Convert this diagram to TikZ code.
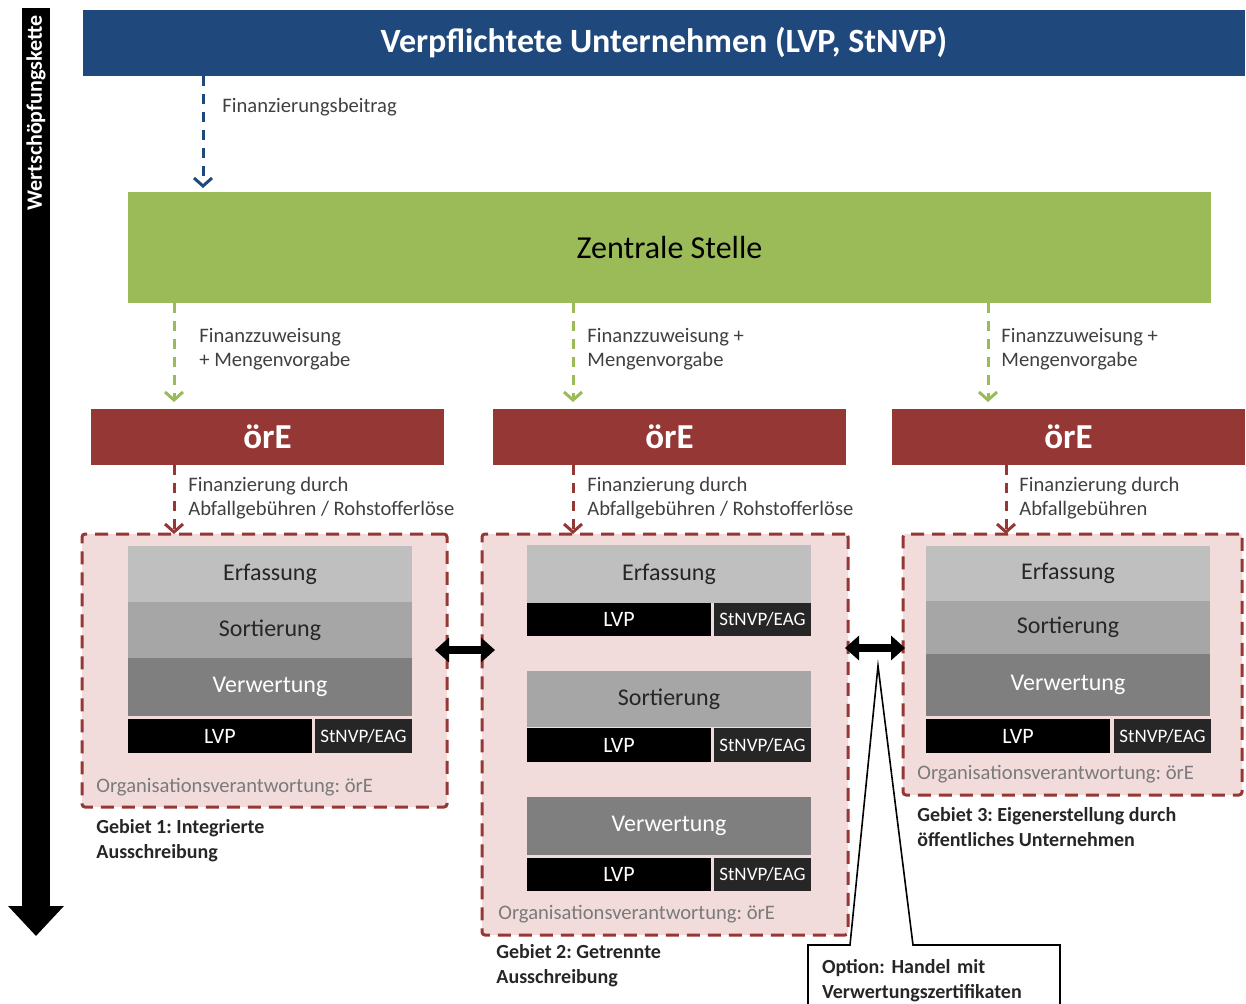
\documentclass[tikz,border=0pt]{standalone}
\usepackage{fontspec}
\setmainfont{Carlito}
\usetikzlibrary{arrows.meta}

\definecolor{vublue}{HTML}{1F497D}
\definecolor{zsgreen}{HTML}{9BBB59}
\definecolor{orered}{HTML}{953735}
\definecolor{gebpink}{HTML}{F2DCDB}
\definecolor{erfgray}{HTML}{BFBFBF}
\definecolor{sortgray}{HTML}{A6A6A6}
\definecolor{verwgray}{HTML}{7F7F7F}
\definecolor{stngray}{HTML}{262626}
\definecolor{labgray}{HTML}{404040}
\definecolor{orggray}{HTML}{7A7A7A}

\begin{document}
\frenchspacing
\begin{tikzpicture}[x=0.5pt,y=-0.5pt,
        box/.style={anchor=north west,inner sep=0pt,outer sep=0pt},
        ore/.style={box,fill=orered,text=white,minimum width=176.5pt,minimum height=28pt,font=\fontsize{17.5}{20}\selectfont\bfseries},
        gebiet/.style={box,fill=gebpink,draw=orered,line width=1.5pt,dash pattern=on 6.5pt off 4pt,rounded corners=1.5pt},
        stage/.style={box,minimum width=142pt,minimum height=28pt,text=stngray,font=\fontsize{12}{14}\selectfont},
        lvp/.style={box,fill=black,text=white,minimum width=92pt,minimum height=17pt,font=\fontsize{11}{13}\selectfont},
        stn/.style={box,fill=stngray,text=white,minimum width=48.5pt,minimum height=17pt,font=\fontsize{9.5}{11}\selectfont},
        fin/.style={line width=1.5pt,dash pattern=on 5pt off 4pt,-{Straight Barb[length=4pt,width=9pt]}},
        lab/.style={anchor=west,inner sep=0pt,align=left,text=labgray,font=\fontsize{10.3}{12}\selectfont},
        org/.style={anchor=west,inner sep=0pt,text=orggray,font=\fontsize{10.3}{12}\selectfont},
        geb/.style={anchor=west,inner sep=0pt,align=left,text=stngray,font=\fontsize{10}{12.5}\selectfont\bfseries},
        tausch/.style={line width=4pt,{Triangle[length=7pt,width=12pt]}-{Triangle[length=7pt,width=12pt]}}]
    \useasboundingbox (0,0) rectangle (1246,1003);

    \coordinate (wtop) at (36,8);
    \coordinate (wbot) at (36,936);
    \draw[line width=14pt,-{Triangle[length=15pt,width=27pt]}] (wtop) -- (wbot);
    \node[rotate=90,anchor=east,inner sep=0pt,text=white,font=\fontsize{11}{12}\selectfont\bfseries] (wsk) at (36,15) {Wertschöpfungskette};

    \node[box,fill=vublue,text=white,minimum width=581pt,minimum height=33pt,font=\fontsize{17}{20}\selectfont\bfseries] (top) at (83,10) {Verpflichtete Unternehmen (LVP, StNVP)};
    \node[box,fill=zsgreen,text=black,minimum width=541.5pt,minimum height=55.5pt,font=\fontsize{16}{19}\selectfont] (zs) at (128,192) {Zentrale Stelle};

    \coordinate (b1) at (203,0);
    \draw[fin,vublue,shorten >=2pt] (top.south -| b1) -- (zs.north -| b1);
    \node[lab] (fb) at (222,107) {Finanzierungsbeitrag};

    \node[ore] (ore1) at (91,409) {örE};
    \node[ore] (ore2) at (493,409) {örE};
    \node[ore] (ore3) at (892,409) {örE};

    \coordinate (g1) at (174,0);
    \coordinate (g2) at (573,0);
    \coordinate (g3) at (988,0);
    \draw[fin,zsgreen,shorten >=3.5pt] (zs.south -| g1) -- (ore1.north -| g1);
    \draw[fin,zsgreen,shorten >=3.5pt] (zs.south -| g2) -- (ore2.north -| g2);
    \draw[fin,zsgreen,shorten >=3.5pt] (zs.south -| g3) -- (ore3.north -| g3);
    \node[lab] (fz1) at (199,349) {Finanzzuweisung\\+ Mengenvorgabe};
    \node[lab] (fz2) at (587,349) {Finanzzuweisung +\\Mengenvorgabe};
    \node[lab] (fz3) at (1001,349) {Finanzzuweisung +\\Mengenvorgabe};

    \node[gebiet,minimum width=182.5pt,minimum height=136.5pt] (r1) at (82,534) {};
    \node[gebiet,minimum width=183pt,minimum height=200.5pt] (r2) at (482,534) {};
    \node[gebiet,minimum width=169.5pt,minimum height=130.5pt] (r3) at (903,534) {};

    \coordinate (f1) at (174,0);
    \coordinate (f2) at (573,0);
    \coordinate (f3) at (1006,0);
    \draw[fin,orered] (ore1.south -| f1) -- (r1.north -| f1);
    \draw[fin,orered] (ore2.south -| f2) -- (r2.north -| f2);
    \draw[fin,orered] (ore3.south -| f3) -- (r3.north -| f3);
    \node[lab] (fa1) at (188,498) {Finanzierung durch\\Abfallgebühren / Rohstofferlöse};
    \node[lab] (fa2) at (587,498) {Finanzierung durch\\Abfallgebühren / Rohstofferlöse};
    \node[lab] (fa3) at (1019,498) {Finanzierung durch\\Abfallgebühren};

    \node[stage,fill=erfgray] (erf1) at (128,546) {Erfassung};
    \node[stage,fill=sortgray] (sort1) at (128,602) {Sortierung};
    \node[stage,fill=verwgray,text=white,minimum height=29pt] (verw1) at (128,658) {Verwertung};
    \node[lvp] (lvp1) at (128,719) {LVP};
    \node[stn] (stn1) at (315,719) {StNVP/EAG};
    \node[org] (org1) at (96,787) {Organisationsverantwortung: örE};
    \node[geb] (geb1) at (96,841) {Gebiet 1: Integrierte\\Ausschreibung};

    \node[stage,fill=erfgray,minimum height=29pt] (erf2) at (527,545) {Erfassung};
    \node[lvp,minimum height=16.5pt] (lvp2a) at (527,603) {LVP};
    \node[stn,minimum height=16.5pt] (stn2a) at (714,603) {StNVP/EAG};
    \node[stage,fill=sortgray] (sort2) at (527,671) {Sortierung};
    \node[lvp] (lvp2b) at (527,728) {LVP};
    \node[stn] (stn2b) at (714,728) {StNVP/EAG};
    \node[stage,fill=verwgray,text=white,minimum height=29pt] (verw2) at (527,797) {Verwertung};
    \node[lvp,minimum height=16.5pt] (lvp2c) at (527,858) {LVP};
    \node[stn,minimum height=16.5pt] (stn2c) at (714,858) {StNVP/EAG};
    \node[org] (org2) at (498,914) {Organisationsverantwortung: örE};
    \node[geb] (geb2) at (496,966) {Gebiet 2: Getrennte\\Ausschreibung};

    \node[stage,fill=erfgray,minimum height=27.5pt] (erf3) at (926,546) {Erfassung};
    \node[stage,fill=sortgray,minimum height=26.5pt] (sort3) at (926,601) {Sortierung};
    \node[stage,fill=verwgray,text=white,minimum height=31pt] (verw3) at (926,654) {Verwertung};
    \node[lvp] (lvp3) at (926,719) {LVP};
    \node[stn] (stn3) at (1114,719) {StNVP/EAG};
    \node[org] (org3) at (917,774) {Organisationsverantwortung: örE};
    \node[geb] (geb3) at (917,827) {Gebiet 3: Eigenerstellung durch\\öffentliches Unternehmen};

    \coordinate (t1) at (0,650);
    \coordinate (t2) at (0,648);
    \draw[tausch,shorten <=-6pt,shorten >=-6.5pt] (r1.east |- t1) -- (r2.west |- t1);
    \draw[tausch,shorten <=-1.5pt,shorten >=-1pt] (r2.east |- t2) -- (r3.west |- t2);

    \node[box,minimum width=125pt,minimum height=36pt,text width=112pt,inner xsep=7pt,inner ysep=2pt,align=left,font=\fontsize{10}{12.5}\selectfont\bfseries,text=stngray] (opt) at (808,945) {Option: Handel mit\\Verwertungszertifikaten};
    \coordinate (tip) at (878,666);
    \coordinate (tipl) at (850,945);
    \coordinate (tipr) at (913,945);
    \draw[line width=0.8pt] (opt.south west) -- (opt.north west) -- (tipl) -- (tip) -- (tipr) -- (opt.north east) -- (opt.south east);
\end{tikzpicture}
\end{document}
